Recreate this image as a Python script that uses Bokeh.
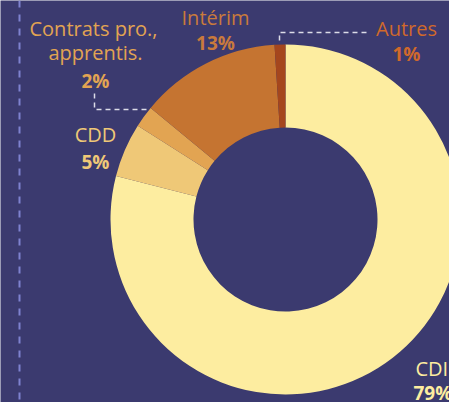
import math
from bokeh.plotting import figure
from bokeh.models import Range1d, ColumnDataSource
from bokeh.core.properties import value
from bokeh.embed import file_html
from bokeh.resources import INLINE

# Data
categories = ["CDI", "CDD", "Contrats pro.,\napprentis.", "Intérim", "Autres"]
percents = [79, 5, 2, 13, 1]
slice_colors = ["#fdeda0", "#efc877", "#e2a452", "#c57431", "#a5461d"]
label_colors = ["#fdeda0", "#efc877", "#e2a452", "#c97a3c", "#d0692b"]

BG = "#3b3a6f"
FONT = "Open Sans"

# screen-like coordinates: x to the right, y = -screen_y
W, H = 449, 402
p = figure(width=W, height=H, output_backend="svg", toolbar_location=None,
           x_range=Range1d(0, W), y_range=Range1d(-H, 0),
           min_border=0, background_fill_color=BG, border_fill_color=BG)
p.axis.visible = False
p.grid.visible = False
p.outline_line_color = None

# donut
cx, cy = 285, -219
r_in, r_out = 92, 175
total = sum(percents)
starts, ends = [], []
acc = 0.0
for v in percents:
    a0 = math.pi / 2 - 2 * math.pi * acc / total
    acc += v
    a1 = math.pi / 2 - 2 * math.pi * acc / total
    starts.append(a0)
    ends.append(a1)
src = ColumnDataSource(dict(start=starts, end=ends, color=slice_colors))
p.annular_wedge(x=cx, y=cy, inner_radius=r_in, outer_radius=r_out,
                start_angle="start", end_angle="end", direction="clock",
                fill_color="color", line_color=None, source=src)

# left dashed separator
p.line([19, 19], [0, -410], line_color="#7f82d0", line_width=2, line_dash="7 7")

# leader lines
lead = "#dcdce8"
p.line([94, 94, 148], [-93, -109, -109], line_color=lead, line_width=1.5, line_dash="5 4")
p.line([279, 279, 368], [-40, -32, -32], line_color=lead, line_width=1.5, line_dash="5 4")

# labels: (name lines positions, pct position)
label_pos = {
    "CDI": ([(415, -368)], (413, -392), "left"),
    "CDD": ([(95, -134)], (95, -161), "center"),
    "Contrats pro.,\napprentis.": ([(93, -28), (95, -52)], (95, -80), "center"),
    "Intérim": ([(215, -17)], (215, -42), "center"),
    "Autres": ([(406, -28)], (406, -53), "center"),
}
for cat, pct, col in zip(categories, percents, label_colors):
    lines = cat.split("\n")
    pos, ppos, align = label_pos[cat]
    for txt, (x, y) in zip(lines, pos):
        p.text(x=[x], y=[y], text=[txt], text_font=value(FONT), text_font_size="20px",
               text_color=col, text_align=align, text_baseline="middle")
    p.text(x=[ppos[0]], y=[ppos[1]], text=[f"{pct}%"], text_font=value(FONT),
           text_font_size="19px", text_font_style="bold", text_color=col,
           text_align=align, text_baseline="middle")

open("out.html", "w").write(file_html(p, INLINE))
